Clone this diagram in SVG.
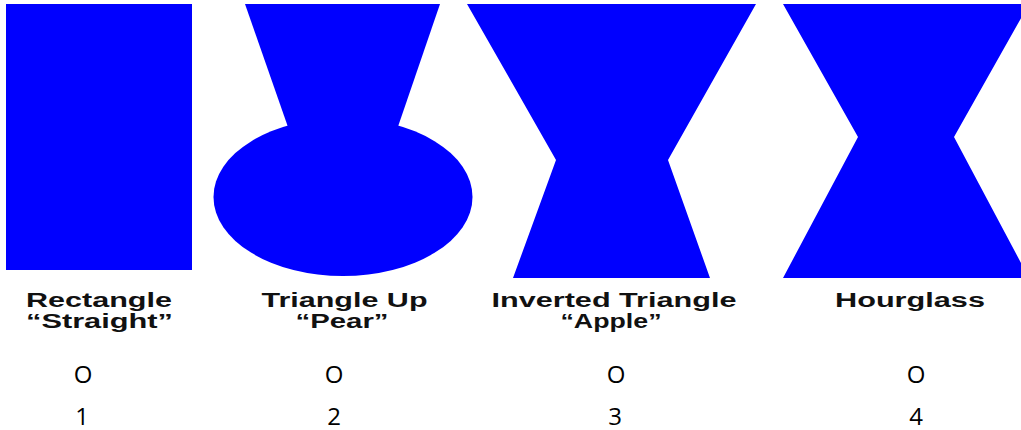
<svg xmlns="http://www.w3.org/2000/svg" width="1021" height="430" viewBox="0 0 1021 430">
<style>
.shape{fill:#0000FF;stroke:none}
.lbl{font-family:"Liberation Sans",Arial,sans-serif;font-weight:bold;font-size:20px;fill:#111;text-anchor:middle}
.opt{font-family:"Open Sans","Liberation Sans",sans-serif;font-size:24px;fill:#000;text-anchor:middle}
</style>
<rect width="1021" height="430" fill="#fff"/>
<g id="rectangle">
<rect class="shape" x="6" y="4" width="186" height="266"/>
<text class="lbl" x="99" y="307" textLength="146" lengthAdjust="spacingAndGlyphs">Rectangle</text>
<text class="lbl" x="99.5" y="328" textLength="147" lengthAdjust="spacingAndGlyphs">“Straight”</text>
<text class="opt" x="83" y="383">O</text>
<text class="opt" x="82" y="425">1</text>
</g>
<g id="pear">
<polygon class="shape" points="245,4 440,4 390,150 296,150"/>
<ellipse class="shape" cx="343" cy="197" rx="129.5" ry="79"/>
<text class="lbl" x="344.5" y="307" textLength="166" lengthAdjust="spacingAndGlyphs">Triangle Up</text>
<text class="lbl" x="342" y="328" textLength="93" lengthAdjust="spacingAndGlyphs">“Pear”</text>
<text class="opt" x="334" y="383">O</text>
<text class="opt" x="334" y="425">2</text>
</g>
<g id="apple">
<polygon class="shape" points="467,4 756,4 668,160 710,278 513,278 556,160"/>
<text class="lbl" x="614" y="307" textLength="245" lengthAdjust="spacingAndGlyphs">Inverted Triangle</text>
<text class="lbl" x="611" y="328" textLength="101" lengthAdjust="spacingAndGlyphs">“Apple”</text>
<text class="opt" x="616" y="383">O</text>
<text class="opt" x="615" y="425">3</text>
</g>
<g id="hourglass">
<polygon class="shape" points="783,4 1029,4 954,137 1029,278 783,278 858,137"/>
<text class="lbl" x="910" y="307" textLength="150" lengthAdjust="spacingAndGlyphs">Hourglass</text>
<text class="opt" x="916" y="383">O</text>
<text class="opt" x="916" y="425">4</text>
</g>
<g id="connectors"/>
</svg>
